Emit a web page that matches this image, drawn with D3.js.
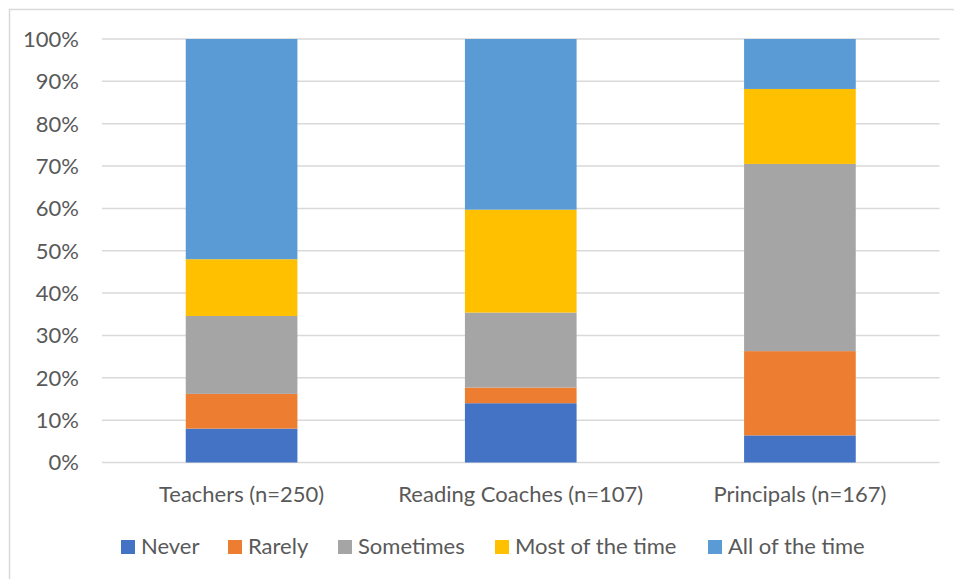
<!DOCTYPE html>
<html>
<head>
<meta charset="utf-8">
<script src="https://cdn.jsdelivr.net/npm/d3@7"></script>
<style>
  html, body { margin: 0; padding: 0; background: #fff; }
  svg { display: block; }
  text { font-family: Lato, "Open Sans", sans-serif; fill: #595959; }
</style>
</head>
<body>
<svg id="chart" width="954" height="579"></svg>
<script>
const categories = ["Teachers (n=250)", "Reading Coaches (n=107)", "Principals (n=167)"];
const seriesNames = ["Never", "Rarely", "Sometimes", "Most of the time", "All of the time"];
const seriesColors = ["#4472C4", "#ED7D31", "#A5A5A5", "#FFC000", "#5B9BD5"];
const never      = [8.0, 14.0, 6.4];
const rarely     = [8.2, 3.7, 19.9];
const sometimes  = [18.4, 17.7, 44.2];
const mostOfTime = [13.4, 24.3, 17.7];
const allOfTime  = [52.0, 40.3, 11.8];
const yTicks = [0, 10, 20, 30, 40, 50, 60, 70, 80, 90, 100];

const seriesValues = [never, rarely, sometimes, mostOfTime, allOfTime];
const rows = categories.map((c, i) => {
  const r = { category: c };
  seriesNames.forEach((s, j) => r[s] = seriesValues[j][i]);
  return r;
});
const stacked = d3.stack().keys(seriesNames)
  .offset(d3.stackOffsetExpand)(rows);

const svg = d3.select("#chart");
const plotLeft = 102, plotRight = 939.5, plotTop = 39, plotBottom = 462.5;

// outer border
svg.append("rect").attr("x", 9.5).attr("y", 9.5).attr("width", 1000).attr("height", 1000)
  .attr("fill", "none").attr("stroke", "#d9d9d9").attr("stroke-width", 1.5);

const x = d3.scaleBand().domain(categories).range([plotLeft, plotRight])
  .paddingInner(0.6).paddingOuter(0.3);
const y = d3.scaleLinear().domain([0, 1]).range([plotBottom, plotTop]);

// gridlines
svg.append("g").selectAll("line").data(yTicks).join("line")
  .attr("x1", plotLeft).attr("x2", plotRight)
  .attr("y1", d => y(d / 100)).attr("y2", d => y(d / 100))
  .attr("stroke", "#d9d9d9").attr("stroke-width", 1.5);

// bars
svg.append("g").selectAll("g").data(stacked).join("g")
  .attr("fill", (d, i) => seriesColors[i])
  .selectAll("rect").data(d => d).join("rect")
  .attr("x", d => x(d.data.category))
  .attr("width", x.bandwidth())
  .attr("y", d => y(d[1]))
  .attr("height", d => y(d[0]) - y(d[1]));

// y axis
const yAxis = d3.axisLeft(y).tickValues(yTicks.map(v => v / 100))
  .tickFormat(d => Math.round(d * 100) + "%").tickSize(0).tickPadding(0);
const ya = svg.append("g").attr("transform", `translate(79,0)`).call(yAxis);
ya.select(".domain").remove();
ya.selectAll("text").style("font-size", "22px").style("font-family", "Lato").attr("fill", "#595959").attr("dy", "0.34em");

// x axis
const xAxis = d3.axisBottom(x).tickSize(0).tickPadding(0);
const xa = svg.append("g").attr("transform", `translate(0,${plotBottom})`).call(xAxis);
xa.select(".domain").remove();
xa.selectAll("text").style("font-size", "22px").style("font-family", "Lato").attr("fill", "#595959").attr("dy", "0").attr("y", 39);

// legend
const legendX = [121, 228, 338, 495, 708];
const lg = svg.append("g").selectAll("g").data(seriesNames).join("g")
  .attr("transform", (d, i) => `translate(${legendX[i]},540)`);
lg.append("rect").attr("width", 14).attr("height", 14).attr("fill", (d, i) => seriesColors[i]);
lg.append("text").attr("x", 20).attr("y", 14).style("font-size", "22px").text(d => d);
</script>
</body>
</html>
